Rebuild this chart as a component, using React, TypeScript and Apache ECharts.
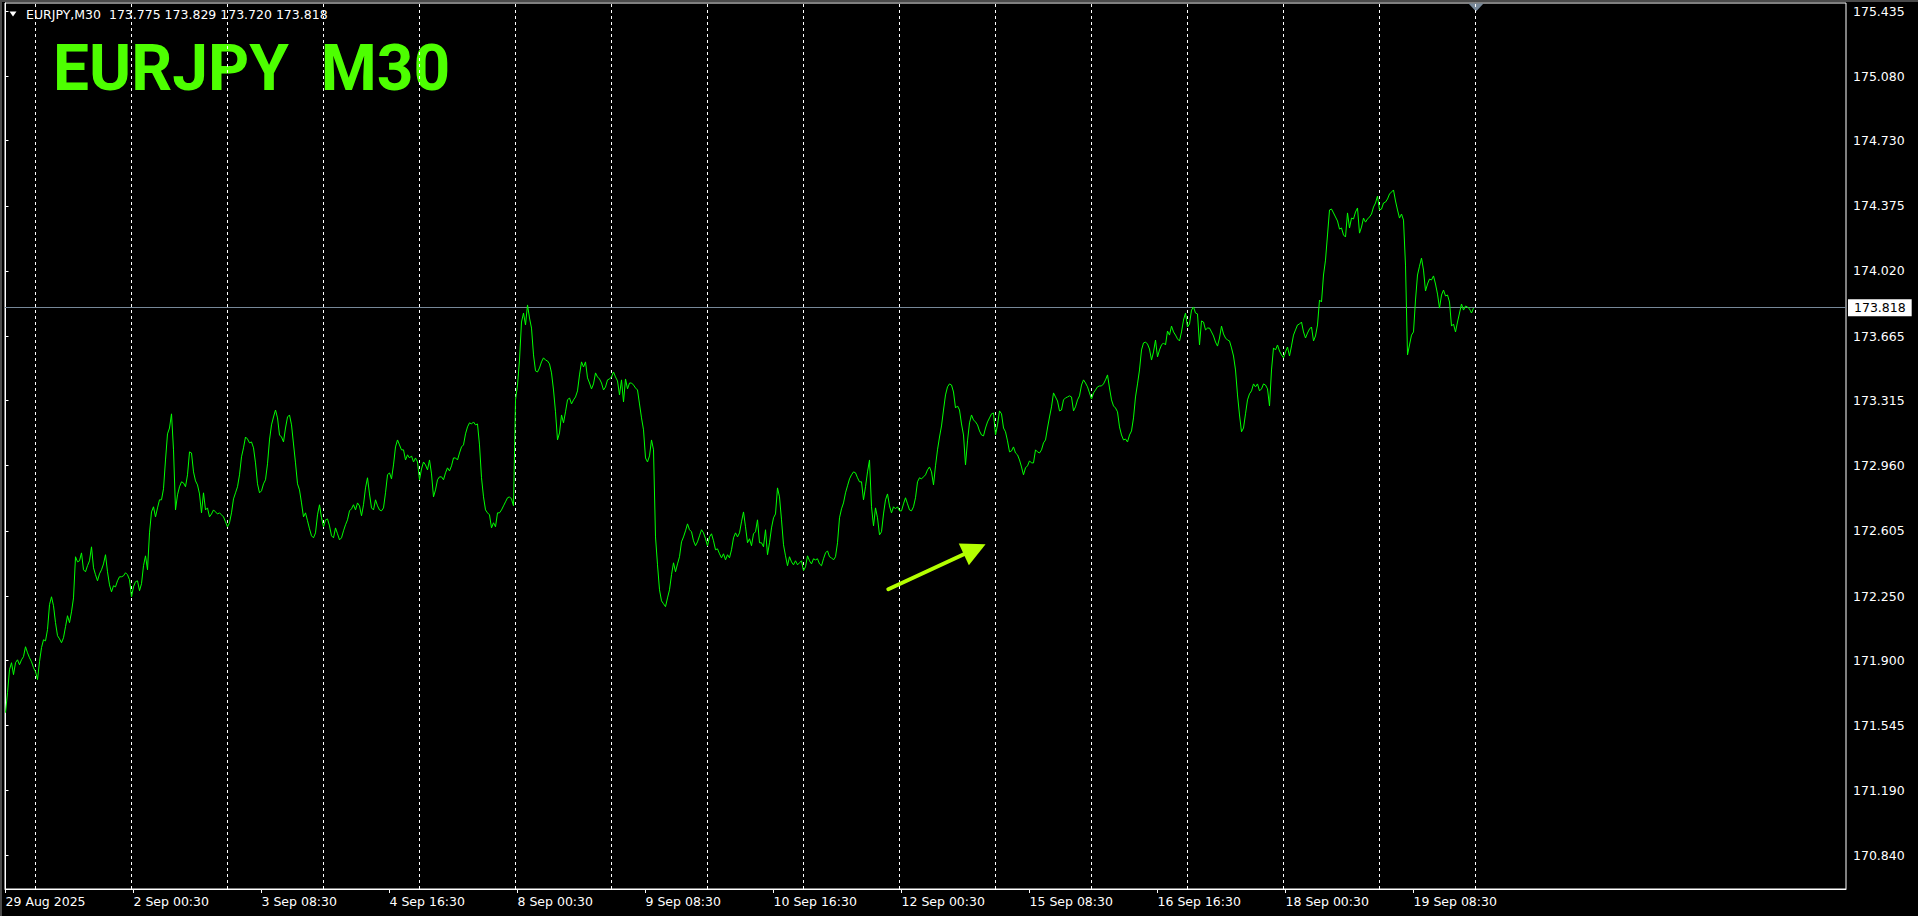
import React, { useEffect, useRef } from "react";
import * as echarts from "echarts";

// ---- header / title ----
const headerSymbol = "EURJPY,M30";
const headerOHLC = ["173.775", "173.829", "173.720", "173.818"];
const bigTitle = "EURJPY  M30";
const lastClose = 173.818;

// ---- x axis (bar index, M30 bars) ----
const xLabelBars = [0, 64, 128, 192, 256, 320, 384, 448, 512, 576, 640, 704];
const xLabelTexts = [
  "29 Aug 2025", "2 Sep 00:30", "3 Sep 08:30", "4 Sep 16:30", "8 Sep 00:30", "9 Sep 08:30",
  "10 Sep 16:30", "12 Sep 00:30", "15 Sep 08:30", "16 Sep 16:30", "18 Sep 00:30", "19 Sep 08:30",
];
// bars where a new trading day starts (grid separators)
const daySeparatorBars = [15, 63, 111, 159, 207, 255, 303, 351, 399, 447, 495, 543, 591, 639, 687, 735];

// ---- y axis ticks ----
const yTickValues = [
  175.435, 175.08, 174.73, 174.375, 174.02, 173.665, 173.315, 172.96, 172.605, 172.25,
  171.9, 171.545, 171.19, 170.84,
];

// ---- close prices (M30) ----
const aug29 = [
  171.615, 171.724, 171.849, 171.887, 171.822, 171.887, 171.903, 171.876, 171.903, 171.920,
  171.974, 171.941, 171.914, 171.892, 171.860,
];
const sep1to5 = [
  171.838, 171.795, 171.892, 171.969, 172.012,
  172.006, 172.067, 172.203, 172.246, 172.197, 172.105, 172.034, 172.017, 171.996, 172.023,
  172.083, 172.143, 172.105, 172.164, 172.240, 172.464, 172.436, 172.442, 172.485, 172.393,
  172.382, 172.415, 172.442, 172.518, 172.404, 172.366, 172.333, 172.371, 172.393, 172.425,
  172.475, 172.382, 172.311, 172.273, 172.306, 172.300, 172.333, 172.355, 172.355, 172.360,
  172.377, 172.366, 172.339, 172.246, 172.300, 172.328, 172.333, 172.279, 172.317, 172.415,
  172.469, 172.393, 172.594, 172.708, 172.736, 172.681, 172.730, 172.774, 172.774, 172.834,
  172.991, 173.133, 173.165, 173.242, 173.046, 172.719, 172.801, 172.845, 172.872, 172.866,
  172.845, 172.910, 173.035, 173.029, 172.926, 172.877, 172.855, 172.806, 172.703, 172.812,
  172.719, 172.730, 172.681, 172.697, 172.719, 172.708, 172.697, 172.703, 172.692, 172.681,
  172.654, 172.627, 172.649, 172.703, 172.779, 172.812, 172.845, 172.910, 173.008, 173.057,
  173.116, 173.105, 173.084, 173.089, 173.057, 172.975, 172.861, 172.812, 172.823, 172.861,
  172.883, 172.970, 173.100, 173.182, 173.225, 173.263, 173.220, 173.127, 173.116, 173.089,
  173.165, 173.225, 173.236, 173.182, 173.078, 172.975, 172.861, 172.828, 172.757, 172.681,
  172.703, 172.660, 172.616, 172.578, 172.567, 172.594, 172.692, 172.747, 172.676, 172.627,
  172.665, 172.670, 172.632, 172.578, 172.567, 172.621, 172.589, 172.556, 172.567, 172.605,
  172.638, 172.665, 172.714, 172.725, 172.747, 172.719, 172.757, 172.741, 172.687, 172.747,
  172.839, 172.894, 172.806, 172.730, 172.719, 172.774, 172.741, 172.719, 172.714, 172.730,
  172.812, 172.910, 172.921, 172.888, 172.964, 173.062, 173.100, 173.073, 173.046, 173.046,
  172.991, 173.019, 173.002, 173.013, 172.980, 173.002, 172.980, 172.883, 172.942, 172.980,
  172.964, 172.937, 172.991, 172.915, 172.790, 172.828, 172.883, 172.899, 172.899, 172.883,
  172.921, 172.948, 172.931, 172.959, 173.002, 173.002, 172.991, 173.029, 173.062, 173.073,
  173.133, 173.171, 173.193, 173.187, 173.198, 173.182, 173.187, 173.073, 172.894, 172.790,
  172.719, 172.703, 172.692, 172.621, 172.649, 172.627, 172.703, 172.703, 172.719, 172.741,
  172.763, 172.785, 172.790, 172.779, 172.741,
];
const sep8to12 = [
  173.318, 173.399, 173.535, 173.742, 173.791,
  173.726, 173.835, 173.764, 173.709, 173.563, 173.476, 173.470, 173.492, 173.525, 173.547,
  173.535, 173.530, 173.514, 173.465, 173.372, 173.253, 173.100, 173.138, 173.236, 173.193,
  173.253, 173.318, 173.329, 173.296, 173.318, 173.334, 173.367, 173.454, 173.525, 173.497,
  173.525, 173.438, 173.410, 173.378, 173.405, 173.465, 173.443, 173.432, 173.410, 173.372,
  173.388, 173.427, 173.432, 173.443, 173.470, 173.443, 173.421, 173.345, 173.427, 173.307,
  173.432, 173.378, 173.410, 173.410, 173.399, 173.383, 173.372, 173.296, 173.220, 173.155,
  173.002, 172.980, 173.013, 173.100, 173.046, 172.572, 172.420, 172.284, 172.224, 172.208,
  172.192, 172.240, 172.284, 172.366, 172.431, 172.382, 172.425, 172.464, 172.545, 172.572,
  172.605, 172.643, 172.611, 172.600, 172.551, 172.524, 172.545, 172.578, 172.611, 172.594,
  172.562, 172.524, 172.572, 172.589, 172.551, 172.502, 172.507, 172.480, 172.458, 172.480,
  172.447, 172.475, 172.458, 172.502, 172.567, 172.594, 172.572, 172.594, 172.654, 172.708,
  172.627, 172.540, 172.562, 172.524, 172.589, 172.600, 172.665, 172.540, 172.540, 172.518,
  172.611, 172.475, 172.540, 172.621, 172.676, 172.697, 172.839, 172.790, 172.665, 172.529,
  172.469, 172.415, 172.464, 172.436, 172.420, 172.442, 172.420, 172.431, 172.442, 172.388,
  172.409, 172.469, 172.442, 172.425, 172.453, 172.447, 172.453, 172.425, 172.415, 172.453,
  172.485, 172.496, 172.464, 172.458, 172.447, 172.464, 172.540, 172.676, 172.725, 172.757,
  172.812, 172.850, 172.888, 172.910, 172.926, 172.921, 172.894, 172.872, 172.872, 172.774,
  172.845, 172.926, 172.991, 172.736, 172.632, 172.730, 172.676, 172.583, 172.600, 172.697,
  172.774, 172.806, 172.741, 172.703, 172.736, 172.725, 172.736, 172.714, 172.714, 172.752,
  172.785, 172.752, 172.719, 172.714, 172.736, 172.785, 172.872, 172.894, 172.888, 172.899,
  172.910, 172.937, 172.953, 172.926, 172.855, 172.959, 173.046, 173.116, 173.176, 173.263,
  173.345, 173.389, 173.405, 173.399, 173.361, 173.274, 173.285, 173.263, 173.187, 173.127,
  172.964, 173.095, 173.193, 173.236, 173.209, 173.198, 173.182, 173.149, 173.127, 173.122,
  173.165, 173.198, 173.220, 173.242, 173.247,
];
const sep15to19 = [
  173.127, 173.182, 173.258, 173.242, 173.165,
  173.144, 173.095, 173.035, 173.040, 173.062, 173.029, 173.019, 172.991, 172.953, 172.910,
  172.948, 172.959, 172.986, 172.975, 172.975, 173.046, 173.035, 173.029, 173.046, 173.084,
  173.100, 173.165, 173.225, 173.280, 173.356, 173.334, 173.312, 173.258, 173.263, 173.318,
  173.329, 173.334, 173.340, 173.334, 173.258, 173.280, 173.318, 173.340, 173.399, 173.427,
  173.410, 173.389, 173.356, 173.323, 173.356, 173.372, 173.389, 173.394, 173.394, 173.405,
  173.427, 173.454, 173.383, 173.318, 173.285, 173.274, 173.253, 173.171, 173.127, 173.100,
  173.105, 173.089, 173.127, 173.149, 173.220, 173.334, 173.405, 173.481, 173.590, 173.628,
  173.633, 173.622, 173.595, 173.535, 173.579, 173.644, 173.552, 173.590, 173.617, 173.628,
  173.617, 173.693, 173.671, 173.720, 173.688, 173.671, 173.650, 173.639, 173.688, 173.753,
  173.791, 173.715, 173.731, 173.807, 173.824, 173.791, 173.786, 173.617, 173.748, 173.742,
  173.699, 173.709, 173.709, 173.688, 173.666, 173.633, 173.611, 173.655, 173.720, 173.677,
  173.655, 173.644, 173.639, 173.601, 173.557, 173.481, 173.345, 173.236, 173.144, 173.165,
  173.242, 173.318, 173.351, 173.367, 173.405, 173.389, 173.405, 173.367, 173.378, 173.405,
  173.399, 173.378, 173.285, 173.481, 173.601, 173.590, 173.617, 173.584, 173.563, 173.547,
  173.579, 173.606, 173.557, 173.612, 173.671, 173.699, 173.726, 173.731, 173.742, 173.688,
  173.655, 173.682, 173.704, 173.715, 173.639, 173.666, 173.726, 173.862, 173.851, 173.998,
  174.079, 174.216, 174.352, 174.357, 174.336, 174.314, 174.292, 174.248, 174.254, 174.216,
  174.205, 174.336, 174.254, 174.308, 174.303, 174.341, 174.363, 174.226, 174.259, 174.308,
  174.286, 174.303, 174.314, 174.330, 174.368, 174.390, 174.428, 174.352, 174.357, 174.390,
  174.395, 174.412, 174.439, 174.450, 174.461, 174.401, 174.352, 174.308, 174.330, 174.297,
  174.052, 173.563, 173.617, 173.671, 173.688, 173.862, 173.998, 174.046, 174.090, 174.025,
  173.911, 173.949, 173.976, 173.971, 173.993, 173.949, 173.894, 173.818, 173.889, 173.916,
  173.884, 173.889, 173.851, 173.720, 173.731, 173.688, 173.742, 173.791, 173.840, 173.807,
  173.829, 173.824, 173.813, 173.791, 173.818,
];

// ---- arrow object (bar index, price) ----
const arrowFrom = [441.4, 172.287];
const arrowTo = [484.6, 172.505];

const FONT = "'DejaVu Sans', Tahoma, sans-serif";

export default function App() {
  const ref = useRef<HTMLDivElement>(null);

  useEffect(() => {
    const closes = [...aug29, ...sep1to5, ...sep8to12, ...sep15to19];
    const lineData = closes.map((v, i) => [i, v]);
    const chart = echarts.init(ref.current!, null, { renderer: "svg" });

    const option: any = {
      animation: false,
      backgroundColor: "#000000",
      grid: {
        left: 5,
        right: 72,
        top: 3,
        bottom: 27,
        show: true,
        borderColor: "#ffffff",
        borderWidth: 1,
        backgroundColor: "transparent",
      },
      xAxis: {
        type: "value",
        min: -0.25,
        max: 920.25,
        axisLine: { show: true, lineStyle: { color: "#ffffff", width: 1 } },
        axisTick: {
          show: true,
          customValues: xLabelBars,
          length: 4,
          lineStyle: { color: "#ffffff" },
        },
        axisLabel: {
          show: true,
          customValues: xLabelBars,
          formatter: (v: number) => {
            const k = xLabelBars.indexOf(Math.round(v));
            return k >= 0 ? xLabelTexts[k] : "";
          },
          color: "#ffffff",
          fontFamily: FONT,
          fontSize: 12.5,
          align: "left",
          margin: 6,
          showMinLabel: true,
          showMaxLabel: true,
        },
        splitLine: { show: false },
      },
      yAxis: {
        type: "value",
        position: "right",
        min: 170.655,
        max: 175.479,
        axisLine: { show: true, lineStyle: { color: "#ffffff", width: 1 } },
        axisTick: {
          show: true,
          customValues: yTickValues,
          length: 3,
          lineStyle: { color: "#ffffff" },
        },
        axisLabel: {
          show: true,
          customValues: yTickValues,
          formatter: (v: number) => v.toFixed(3),
          color: "#ffffff",
          fontFamily: FONT,
          fontSize: 12.5,
          margin: 7,
        },
        splitLine: { show: false },
      },
      series: [
        {
          name: "separators",
          type: "line",
          data: [],
          z: 1,
          silent: true,
          markLine: {
            silent: true,
            z: 1,
            symbol: ["none", "none"],
            label: { show: false },
            lineStyle: { color: "#ffffff", width: 1, type: [3, 3] },
            data: daySeparatorBars.map((b) => ({ xAxis: b })),
          },
        },
        {
          name: "EURJPY",
          type: "line",
          data: lineData,
          z: 3,
          showSymbol: false,
          symbol: "none",
          lineStyle: { color: "#00ff00", width: 1 },
          silent: true,
          markLine: {
            silent: true,
            z: 2,
            symbol: ["none", "none"],
            data: [
              {
                yAxis: lastClose,
                lineStyle: { color: "#778899", width: 1, type: "solid" },
                label: {
                  show: true,
                  position: "end",
                  formatter: lastClose.toFixed(3),
                  backgroundColor: "#ffffff",
                  color: "#000000",
                  fontFamily: FONT,
                  fontSize: 12.5,
                  padding: [2, 6, 2, 6],
                  distance: 2,
                },
              },
            ],
          },
        },
        {
          name: "arrow",
          type: "line",
          data: [],
          z: 4,
          silent: true,
          markLine: {
            silent: true,
            z: 6,
            symbol: ["none", "triangle"],
            symbolSize: [24, 24],
            label: { show: false },
            lineStyle: { color: "#b4ff00", width: 4, type: "solid", cap: "round" },
            itemStyle: { color: "#b4ff00" },
            data: [[{ coord: arrowFrom }, { coord: arrowTo }]],
          },
        },
      ],
      graphic: [
        { type: "rect", shape: { x: 0, y: 0, width: 1918, height: 2 }, style: { fill: "#4a4a4a" }, silent: true },
        { type: "rect", shape: { x: 0, y: 0, width: 2, height: 916 }, style: { fill: "#4a4a4a" }, silent: true },
        {
          type: "polygon",
          shape: { points: [[9.5, 11.5], [16.5, 11.5], [13, 16.5]] },
          style: { fill: "#ffffff" },
          silent: true,
        },
        {
          type: "text",
          x: 26,
          y: 14,
          style: {
            text: headerSymbol + "  " + headerOHLC.join(" "),
            fill: "#ffffff",
            font: "12.5px " + FONT,
            verticalAlign: "middle",
            align: "left",
          },
          silent: true,
        },
        {
          type: "text",
          x: 53,
          y: 68,
          style: {
            text: bigTitle,
            fill: "#4dff00",
            font: "bold 64px Roboto, 'Open Sans', sans-serif",
            verticalAlign: "middle",
            align: "left",
          },
          silent: true,
        },
        {
          type: "polygon",
          shape: { points: [[1468.5, 3.5], [1483.5, 3.5], [1476, 11.5]] },
          style: { fill: "#778899" },
          silent: true,
        },
      ],
    };

    chart.setOption(option);
    return () => chart.dispose();
  }, []);

  return (
    <div
      ref={ref}
      style={{ position: "fixed", left: 0, top: 0, width: 1918, height: 916, background: "#000" }}
    />
  );
}
